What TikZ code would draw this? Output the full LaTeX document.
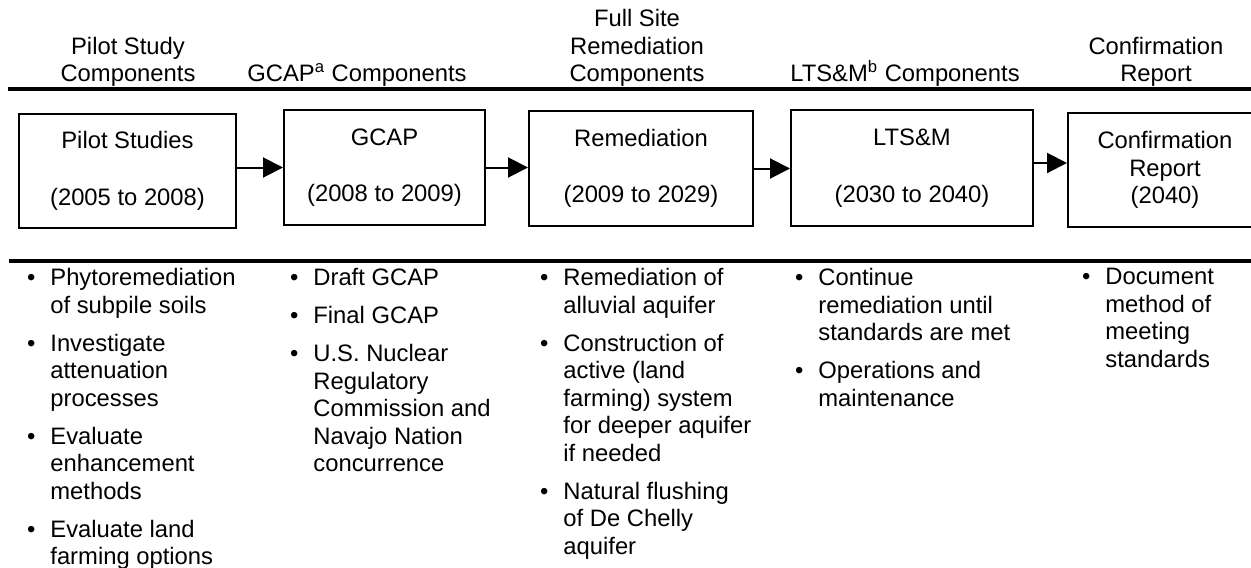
\documentclass[tikz,border=0pt]{standalone}
\usepackage{fontspec}
\setmainfont{Liberation Sans}
\usetikzlibrary{arrows.meta}
\tikzset{
  kasten/.style={draw, line width=1pt, inner sep=0pt, align=center},
  pfeil/.style={line width=1pt, -{Triangle[length=10pt,width=10pt]}},
  kopf/.style={anchor=south, inner sep=0pt, align=center},
  liste/.style={anchor=north west, inner sep=0pt, align=left},
}
\newcommand{\pkt}{\makebox[0pt][r]{\textbullet\hspace{7.5pt}}}

\begin{document}
\begin{tikzpicture}[x=0.5pt, y=-0.5pt, font=\fontsize{11.9pt}{13.75pt}\selectfont] % 1 Einheit = 1 Pixel
\useasboundingbox (0,0) rectangle (1251,567);
\clip (0,0) rectangle (1251,567);

% Linien
\draw[line width=2pt] (8,89) -- (1260,89); % oben
\draw[line width=2.2pt] (9,261) -- (1260,261); % unten

% Ueberschriften
\node[kopf] (h1) at (128,87) {Pilot Study\\Components};
\node[kopf] (h2) at (357,87) {GCAP\textsuperscript{a} Components};
\node[kopf] (h3) at (637,87) {Full Site\\Remediation\\Components};
\node[kopf] (h4) at (905,87) {LTS\&M\textsuperscript{b} Components};
\node[kopf] (h5) at (1156,87) {Confirmation\\Report};

% Kaesten
\foreach \n/\x/\y/\w/\h/\txt in {
  b1/127.5/171/108.5pt/57pt/{Pilot Studies\\[14.75pt](2005 to 2008)},
  b2/384.5/167.5/100.5pt/57.5pt/{GCAP\\[14pt](2008 to 2009)},
  b3/641/168.5/112pt/57.5pt/{Remediation\\[14.5pt](2009 to 2029)},
  b4/912/168/121pt/58pt/{LTS\&M\\[14.5pt](2030 to 2040)},
  b5/1165/170/97pt/57pt/{Confirmation\\Report\\(2040)}} {
  \node[kasten, minimum width=\w, minimum height=\h] (\n) at (\x,\y) {\txt};
}

% Pfeile
\draw[pfeil] (b1.east |- b2.west) -- (b2.west);
\draw[pfeil] (b2.east) -- (b2.east -| b3.west);
\draw[pfeil] (b3.east) -- (b3.east -| b4.west);
\draw[pfeil] ([yshift=2.5pt]b4.east) -- ([yshift=2.5pt]b4.east -| b5.west);

% Listen
\node[liste] (l1) at (50,268) {\pkt Phytoremediation\\of subpile soils\\[5.25pt]\pkt Investigate\\attenuation\\processes\\[5.25pt]\pkt Evaluate\\enhancement\\methods\\[5.25pt]\pkt Evaluate land\\farming options};
\node[liste] (l2) at (313,268) {\pkt Draft GCAP\\[5.25pt]\pkt Final GCAP\\[5.25pt]\pkt U.S. Nuclear\\Regulatory\\Commission and\\Navajo Nation\\concurrence};
\node[liste] (l3) at (563,268) {\pkt Remediation of\\alluvial aquifer\\[5.25pt]\pkt Construction of\\active (land\\farming) system\\for deeper aquifer\\if needed\\[5.25pt]\pkt Natural flushing\\of De Chelly\\aquifer};
\node[liste] (l4) at (818,268) {\pkt Continue\\remediation until\\standards are met\\[5.25pt]\pkt Operations and\\maintenance};
\node[liste] (l5) at (1105,268) {\pkt Document\\method of\\meeting\\standards};

\end{tikzpicture}
\end{document}
